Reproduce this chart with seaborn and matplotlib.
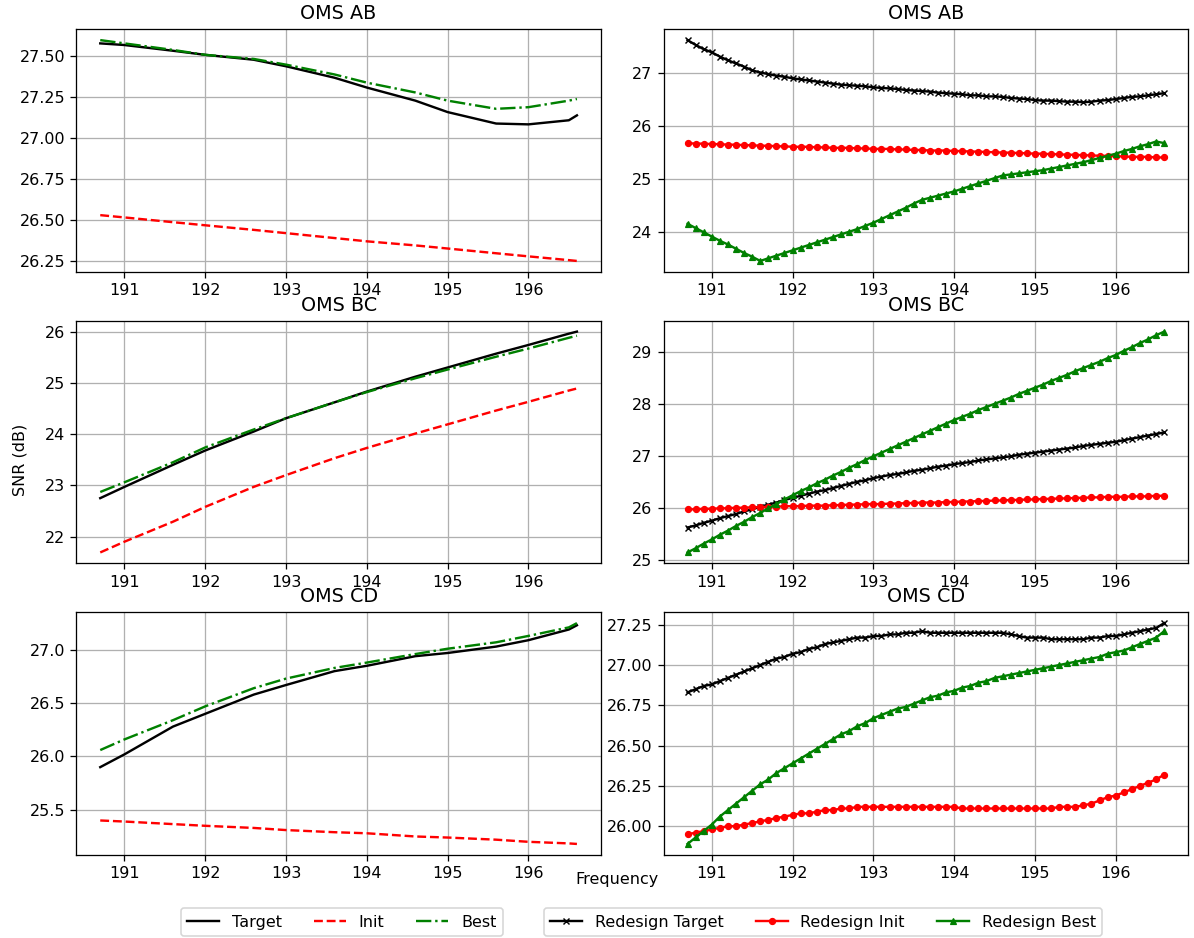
# SNR per frequency: original design vs redesign, three OMS sections
import matplotlib
matplotlib.use("Agg")
import matplotlib.pyplot as plt
from matplotlib.ticker import MultipleLocator
import seaborn as sb

# ---- data ----
sections = ["OMS AB", "OMS BC", "OMS CD"]

# left column (coarse samples)
freq_coarse = [190.7, 191.0, 191.6, 192.0, 192.6, 193.0, 193.6, 194.0,
               194.6, 195.0, 195.6, 196.0, 196.5, 196.6]

ab_target = [27.58, 27.57, 27.535, 27.51, 27.48, 27.44, 27.37, 27.31,
             27.23, 27.16, 27.09, 27.085, 27.11, 27.14]
ab_init = [26.53, 26.516, 26.487, 26.468, 26.44, 26.42, 26.39, 26.37,
           26.345, 26.326, 26.297, 26.278, 26.255, 26.25]
ab_best = [27.60, 27.58, 27.54, 27.51, 27.485, 27.45, 27.39, 27.34,
           27.28, 27.23, 27.18, 27.19, 27.23, 27.24]

bc_target = [22.75, 22.97, 23.40, 23.68, 24.05, 24.31, 24.62, 24.83,
             25.12, 25.30, 25.57, 25.74, 25.96, 26.00]
bc_init = [21.69, 21.90, 22.29, 22.58, 22.97, 23.20, 23.53, 23.73,
           24.01, 24.19, 24.46, 24.63, 24.85, 24.89]
bc_best = [22.87, 23.06, 23.45, 23.74, 24.09, 24.31, 24.62, 24.82,
           25.09, 25.26, 25.51, 25.67, 25.88, 25.92]

cd_target = [25.90, 26.02, 26.28, 26.40, 26.58, 26.67, 26.80, 26.85,
             26.94, 26.97, 27.03, 27.09, 27.19, 27.23]
cd_init = [25.40, 25.39, 25.366, 25.35, 25.33, 25.31, 25.29, 25.28,
           25.25, 25.24, 25.22, 25.20, 25.185, 25.18]
cd_best = [26.06, 26.16, 26.34, 26.47, 26.64, 26.73, 26.83, 26.88,
           26.96, 27.01, 27.07, 27.13, 27.21, 27.25]

# right column (one sample per 0.1 THz, 190.7 .. 196.6)
freq_fine = [190.7, 190.8, 190.9, 191.0, 191.1, 191.2, 191.3, 191.4, 191.5, 191.6,
             191.7, 191.8, 191.9, 192.0, 192.1, 192.2, 192.3, 192.4, 192.5, 192.6,
             192.7, 192.8, 192.9, 193.0, 193.1, 193.2, 193.3, 193.4, 193.5, 193.6,
             193.7, 193.8, 193.9, 194.0, 194.1, 194.2, 194.3, 194.4, 194.5, 194.6,
             194.7, 194.8, 194.9, 195.0, 195.1, 195.2, 195.3, 195.4, 195.5, 195.6,
             195.7, 195.8, 195.9, 196.0, 196.1, 196.2, 196.3, 196.4, 196.5, 196.6]

ab_re_target = [27.61, 27.52, 27.44, 27.38, 27.30, 27.23, 27.17, 27.11, 27.04, 27.00,
                26.97, 26.94, 26.92, 26.89, 26.87, 26.85, 26.83, 26.81, 26.79, 26.77,
                26.76, 26.75, 26.74, 26.72, 26.71, 26.70, 26.69, 26.67, 26.66, 26.65,
                26.64, 26.62, 26.61, 26.60, 26.59, 26.57, 26.57, 26.55, 26.55, 26.54,
                26.52, 26.51, 26.50, 26.48, 26.47, 26.47, 26.46, 26.45, 26.45, 26.44,
                26.45, 26.47, 26.48, 26.50, 26.52, 26.54, 26.55, 26.57, 26.59, 26.61]
ab_re_init = [25.67, 25.66, 25.66, 25.65, 25.65, 25.64, 25.64, 25.63, 25.63, 25.62,
              25.62, 25.61, 25.61, 25.60, 25.60, 25.60, 25.59, 25.59, 25.58, 25.58,
              25.58, 25.57, 25.57, 25.56, 25.56, 25.56, 25.55, 25.55, 25.54, 25.54,
              25.53, 25.53, 25.53, 25.52, 25.52, 25.51, 25.51, 25.50, 25.50, 25.49,
              25.49, 25.48, 25.48, 25.47, 25.47, 25.46, 25.46, 25.45, 25.45, 25.44,
              25.44, 25.43, 25.43, 25.42, 25.42, 25.41, 25.41, 25.41, 25.40, 25.40]
ab_re_best = [24.15, 24.07, 23.99, 23.91, 23.83, 23.76, 23.68, 23.60, 23.53, 23.45,
              23.50, 23.55, 23.60, 23.65, 23.70, 23.75, 23.80, 23.85, 23.90, 23.95,
              24.00, 24.05, 24.11, 24.17, 24.24, 24.31, 24.38, 24.45, 24.53, 24.60,
              24.64, 24.68, 24.72, 24.76, 24.81, 24.86, 24.91, 24.96, 25.01, 25.06,
              25.08, 25.10, 25.12, 25.14, 25.16, 25.19, 25.22, 25.25, 25.28, 25.31,
              25.35, 25.39, 25.43, 25.47, 25.52, 25.56, 25.61, 25.65, 25.70, 25.67]

bc_re_target = [25.63, 25.67, 25.72, 25.76, 25.81, 25.85, 25.89, 25.94, 25.98, 26.03,
                26.07, 26.11, 26.16, 26.20, 26.24, 26.28, 26.32, 26.35, 26.39, 26.43,
                26.47, 26.51, 26.54, 26.58, 26.61, 26.64, 26.66, 26.69, 26.72, 26.74,
                26.77, 26.80, 26.82, 26.85, 26.87, 26.89, 26.92, 26.94, 26.96, 26.98,
                27.00, 27.03, 27.05, 27.07, 27.09, 27.11, 27.13, 27.15, 27.17, 27.20,
                27.22, 27.24, 27.26, 27.28, 27.31, 27.34, 27.37, 27.40, 27.43, 27.46]
bc_re_init = [25.98, 25.98, 25.99, 25.99, 26.00, 26.00, 26.01, 26.01, 26.02, 26.02,
              26.03, 26.03, 26.04, 26.04, 26.04, 26.05, 26.05, 26.05, 26.06, 26.06,
              26.07, 26.07, 26.08, 26.08, 26.08, 26.09, 26.09, 26.10, 26.10, 26.11,
              26.11, 26.11, 26.12, 26.12, 26.13, 26.13, 26.14, 26.14, 26.15, 26.15,
              26.16, 26.16, 26.17, 26.17, 26.18, 26.18, 26.19, 26.19, 26.20, 26.20,
              26.21, 26.21, 26.22, 26.22, 26.22, 26.23, 26.23, 26.23, 26.24, 26.24]
bc_re_best = [25.15, 25.23, 25.32, 25.40, 25.49, 25.57, 25.66, 25.74, 25.83, 25.91,
              26.00, 26.08, 26.17, 26.25, 26.33, 26.40, 26.48, 26.55, 26.63, 26.70,
              26.78, 26.85, 26.93, 27.00, 27.07, 27.14, 27.21, 27.28, 27.35, 27.42,
              27.49, 27.56, 27.63, 27.70, 27.76, 27.82, 27.89, 27.95, 28.01, 28.07,
              28.13, 28.20, 28.26, 28.32, 28.38, 28.45, 28.51, 28.57, 28.64, 28.70,
              28.76, 28.82, 28.89, 28.95, 29.03, 29.10, 29.18, 29.25, 29.33, 29.40]

cd_re_target = [26.83, 26.85, 26.87, 26.88, 26.90, 26.92, 26.94, 26.96, 26.98, 27.00,
                27.02, 27.04, 27.05, 27.07, 27.08, 27.10, 27.11, 27.13, 27.14, 27.15,
                27.16, 27.17, 27.17, 27.18, 27.18, 27.19, 27.19, 27.20, 27.20, 27.21,
                27.20, 27.20, 27.20, 27.20, 27.20, 27.20, 27.20, 27.20, 27.20, 27.20,
                27.19, 27.18, 27.17, 27.17, 27.17, 27.16, 27.16, 27.16, 27.16, 27.16,
                27.17, 27.17, 27.18, 27.18, 27.19, 27.20, 27.21, 27.22, 27.23, 27.26]
cd_re_init = [25.95, 25.96, 25.97, 25.98, 25.99, 26.00, 26.00, 26.01, 26.02, 26.03,
              26.04, 26.05, 26.06, 26.07, 26.08, 26.08, 26.09, 26.10, 26.10, 26.11,
              26.11, 26.12, 26.12, 26.12, 26.12, 26.12, 26.12, 26.12, 26.12, 26.12,
              26.12, 26.12, 26.12, 26.12, 26.11, 26.11, 26.11, 26.11, 26.11, 26.11,
              26.11, 26.11, 26.11, 26.11, 26.11, 26.11, 26.12, 26.12, 26.12, 26.13,
              26.14, 26.16, 26.18, 26.19, 26.21, 26.23, 26.25, 26.27, 26.29, 26.32]
cd_re_best = [25.89, 25.93, 25.97, 26.01, 26.06, 26.10, 26.14, 26.18, 26.22, 26.26,
              26.29, 26.33, 26.36, 26.39, 26.42, 26.45, 26.48, 26.51, 26.54, 26.57,
              26.59, 26.62, 26.64, 26.67, 26.69, 26.71, 26.73, 26.74, 26.76, 26.78,
              26.80, 26.81, 26.83, 26.84, 26.86, 26.87, 26.89, 26.90, 26.92, 26.93,
              26.94, 26.95, 26.96, 26.97, 26.98, 26.99, 27.00, 27.01, 27.02, 27.03,
              27.04, 27.05, 27.07, 27.08, 27.09, 27.11, 27.13, 27.15, 27.17, 27.21]

left_data = [(ab_target, ab_init, ab_best),
             (bc_target, bc_init, bc_best),
             (cd_target, cd_init, cd_best)]
right_data = [(ab_re_target, ab_re_init, ab_re_best),
              (bc_re_target, bc_re_init, bc_re_best),
              (cd_re_target, cd_re_init, cd_re_best)]

# ---- figure ----
dpi = 115
fig, axes = plt.subplots(3, 2, figsize=(1194 / dpi, 938 / dpi), dpi=dpi)
fig.subplots_adjust(left=0.064, right=0.995, top=0.969, bottom=0.0885,
                    wspace=0.12, hspace=0.2)

for i in range(3):
    # left: original design, plain lines
    ax = axes[i, 0]
    tgt, ini, best = left_data[i]
    sb.lineplot(x=freq_coarse, y=tgt, ax=ax, color="k", linestyle="-",
                label="Target", legend=False)
    sb.lineplot(x=freq_coarse, y=ini, ax=ax, color="r", linestyle="--",
                label="Init", legend=False)
    sb.lineplot(x=freq_coarse, y=best, ax=ax, color="g", linestyle="-.",
                label="Best", legend=False)

    # right: redesign, lines with markers
    ax2 = axes[i, 1]
    tgt, ini, best = right_data[i]
    sb.lineplot(x=freq_fine, y=tgt, ax=ax2, color="k", marker="x", markersize=4,
                markeredgecolor="k", markeredgewidth=0.9,
                label="Redesign Target", legend=False)
    sb.lineplot(x=freq_fine, y=ini, ax=ax2, color="r", marker="o", markersize=3.8,
                markeredgecolor="r", markeredgewidth=0.75,
                label="Redesign Init", legend=False)
    sb.lineplot(x=freq_fine, y=best, ax=ax2, color="g", marker="^", markersize=3.8,
                markeredgecolor="g", markeredgewidth=0.75,
                label="Redesign Best", legend=False)

    for a in (ax, ax2):
        a.set_title(sections[i], fontsize=12)
        a.grid(True)
        a.set_xlabel("")
        a.set_ylabel("")
        a.tick_params(labelsize=10)

# quarter-dB ticks where the reference uses them
axes[0, 0].yaxis.set_major_locator(MultipleLocator(0.25))
axes[2, 1].yaxis.set_major_locator(MultipleLocator(0.25))

fig.text(0.017, 0.51, "SNR (dB)", rotation=90, ha="center", va="center", fontsize=10)
fig.text(0.517, 0.062, "Frequency", ha="center", va="center", fontsize=10)

h1, l1 = axes[0, 0].get_legend_handles_labels()
h2, l2 = axes[0, 1].get_legend_handles_labels()
fig.legend(h1, l1, loc="center", bbox_to_anchor=(342 / 1194, 0.017), ncol=3, fontsize=10)
fig.legend(h2, l2, loc="center", bbox_to_anchor=(823 / 1194, 0.017), ncol=3, fontsize=10)

plt.savefig("out.png", dpi=dpi)
